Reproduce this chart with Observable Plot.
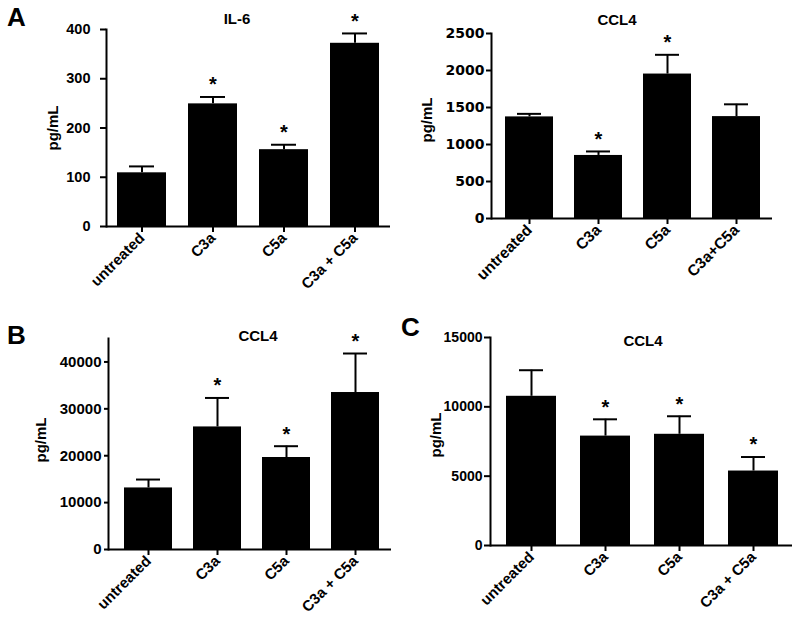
<!DOCTYPE html>
<html>
<head>
<meta charset="utf-8">
<script src="https://cdn.jsdelivr.net/npm/d3@7"></script>
<script src="https://cdn.jsdelivr.net/npm/@observablehq/plot@0.6"></script>
<style>
  html, body { margin: 0; padding: 0; background: #fff; }
  #fig { position: relative; width: 800px; height: 629px; overflow: hidden; background: #fff;
         font-family: 'Liberation Sans', Arial, sans-serif; font-weight: bold; color: #000; }
  #fig .panel { position: absolute; }
  #fig .lbl { position: absolute; line-height: 1; white-space: nowrap; }
  #fig .letter { font-size: 26px; }
  #fig .title { font-size: 15px; transform: translate(-50%, -50%); }
  #fig .ylab { font-size: 15px; transform: translate(-50%, -50%) rotate(-90deg); }
</style>
</head>
<body>
<div id="fig"></div>
<script>
// ---------- data ----------
const catsA = ["untreated", "C3a", "C5a", "C3a + C5a"];
const catsTR = ["untreated", "C3a", "C5a", "C3a+C5a"];
const catsB = ["untreated", "C3a", "C5a", "C3a + C5a"];
const catsC = ["untreated", "C3a", "C5a", "C3a + C5a"];

const il6Mean = [109, 249, 156, 372];
const il6Sem = [13, 14, 10, 20];
const il6Star = [false, true, true, true];
const il6Ticks = [0, 100, 200, 300, 400];

const ccl4TRMean = [1373, 852, 1952, 1377];
const ccl4TRSem = [41, 54, 260, 166];
const ccl4TRStar = [false, true, true, false];
const ccl4TRTicks = [0, 500, 1000, 1500, 2000, 2500];

const ccl4BMean = [13130, 26140, 19620, 33480];
const ccl4BSem = [1790, 6180, 2410, 8320];
const ccl4BStar = [false, true, true, true];
const ccl4BTicks = [0, 10000, 20000, 30000, 40000];

const ccl4CMean = [10760, 7890, 8020, 5370];
const ccl4CSem = [1880, 1210, 1300, 1010];
const ccl4CStar = [false, true, true, true];
const ccl4CTicks = [0, 5000, 10000, 15000];

// ---------- drawing ----------
const fig = document.getElementById("fig");
const ARIAL = "'Liberation Sans', Arial, sans-serif";
const WIDE = "'DejaVu Sans', Verdana, sans-serif";

function addLabel(cls, text, left, top) {
  const d = document.createElement("div");
  d.className = "lbl " + cls;
  d.textContent = text;
  d.style.left = left + "px";
  d.style.top = top + "px";
  fig.appendChild(d);
}

function panel(o) {
  const data = o.cats.map((c, i) => ({cat: c, mean: o.mean[i], upper: o.mean[i] + o.sem[i], star: o.star[i]}));
  const chart = Plot.plot({
    width: o.w, height: o.h,
    marginLeft: o.ml, marginRight: o.mr, marginTop: o.mt, marginBottom: o.mb,
    x: {domain: o.cats, paddingInner: o.pad, paddingOuter: o.pad / 2, insetLeft: o.insetLeft || 0, label: null},
    y: {domain: o.domain, label: null},
    style: {fontFamily: ARIAL, fontWeight: "bold", fontSize: o.fs + "px",
            color: "black", background: "transparent", overflow: "visible"},
    marks: [
      Plot.barY(data, {x: "cat", y: "mean", fill: "black"}),
      Plot.ruleX(data, {x: "cat", y1: "mean", y2: "upper", stroke: "black", strokeWidth: 2}),
      Plot.tickY(data, {x: "cat", y: "upper", stroke: "black", strokeWidth: 2, insetLeft: o.cap, insetRight: o.cap}),
      Plot.text(data.filter(d => d.star), {x: "cat", y: "upper", text: () => "*", dy: -12, fontSize: 20, fontWeight: "bold", fontFamily: ARIAL}),
      Plot.axisY({ticks: o.ticks, tickSize: o.tickSize, tickPadding: o.tickPad, tickFormat: d => String(d), fontSize: o.fs,
                  fontFamily: o.yFont || ARIAL, strokeWidth: 2, label: null}),
      Plot.axisX({tickRotate: -45, tickSize: 6, tickPadding: 3, fontSize: o.xfs, fontFamily: ARIAL, strokeWidth: 2, label: null}),
      Plot.ruleY([0], {stroke: "black", strokeWidth: 2}),
      Plot.frame({anchor: "left", stroke: "black", strokeWidth: 2})
    ]
  });
  chart.classList.add("panel");
  chart.style.left = o.left + "px";
  chart.style.top = o.top + "px";
  fig.appendChild(chart);
}

panel({cats: catsA, mean: il6Mean, sem: il6Sem, star: il6Star, ticks: il6Ticks, domain: [0, 400],
       left: 0, top: 0, w: 400, h: 320, ml: 106, mr: 10, mt: 29, mb: 94, pad: 0.31, cap: 12,
       fs: 14.5, xfs: 15, tickSize: 6, tickPad: 10});
panel({cats: catsTR, mean: ccl4TRMean, sem: ccl4TRSem, star: ccl4TRStar, ticks: ccl4TRTicks, domain: [0, 2500],
       left: 400, top: 0, w: 400, h: 320, ml: 91, mr: 28, mt: 33, mb: 102, pad: 0.3, insetLeft: 2, cap: 12,
       fs: 14, xfs: 15.5, yFont: WIDE, tickSize: 5, tickPad: 2});
panel({cats: catsB, mean: ccl4BMean, sem: ccl4BSem, star: ccl4BStar, ticks: ccl4BTicks, domain: [0, 45000],
       left: 0, top: 320, w: 400, h: 309, ml: 108, mr: 9, mt: 18, mb: 80, pad: 0.31, insetLeft: 4, cap: 12,
       fs: 15, xfs: 15, tickSize: 4, tickPad: 3});
panel({cats: catsC, mean: ccl4CMean, sem: ccl4CSem, star: ccl4CStar, ticks: ccl4CTicks, domain: [0, 15000],
       left: 400, top: 320, w: 400, h: 309, ml: 90, mr: 8, mt: 17, mb: 84, pad: 0.32, insetLeft: 3, cap: 13,
       fs: 14, xfs: 15, tickSize: 6, tickPad: 2});

// panel letters, titles, y labels
addLabel("letter", "A", 7, 4);
addLabel("letter", "B", 7, 322);
addLabel("letter", "C", 401, 314);
addLabel("title", "IL-6", 237, 18);
addLabel("title", "CCL4", 617, 19);
addLabel("title", "CCL4", 258, 335);
addLabel("title", "CCL4", 643, 340);
addLabel("ylab", "pg/mL", 52, 128);
addLabel("ylab", "pg/mL", 426, 120);
addLabel("ylab", "pg/mL", 40, 440);
addLabel("ylab", "pg/mL", 435, 435);
</script>
</body>
</html>
